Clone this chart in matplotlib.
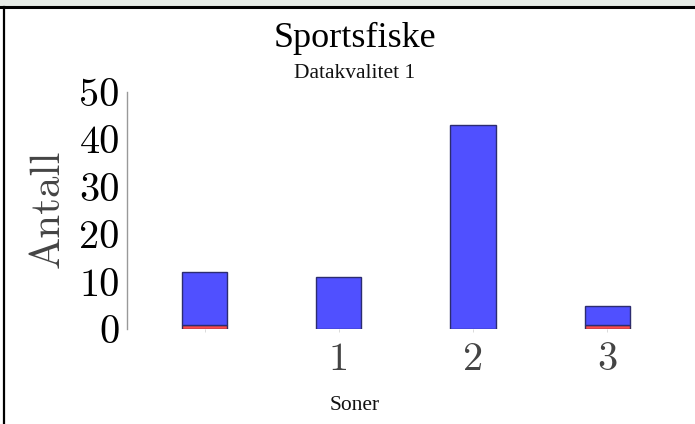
import matplotlib
matplotlib.use("Agg")
import matplotlib.pyplot as plt
import numpy as np
from matplotlib.ticker import FixedLocator

# Catch counts per zone (red = lower segment, blue = stacked on top)
zones = ["", "1", "2", "3"]
red_values = [1, 0, 0, 1]
blue_values = [11, 11, 43, 4]
y_ticks = [0, 10, 20, 30, 40, 50]

W, H = 695, 424
fig = plt.figure(figsize=(W / 100, H / 100), dpi=100)
fig.patch.set_facecolor("white")

ax = fig.add_axes([126.7 / W, 1 - 329.3 / H, (685 - 126.7) / W, (329.3 - 91.8) / H])

x = np.arange(len(zones))
width = 0.336
ax.bar(x, red_values, width, color="#ff4b4b", edgecolor="#3a2a50", linewidth=1.0)
ax.bar(x, blue_values, width, bottom=red_values, color="#5050ff",
       edgecolor="#2c2c70", linewidth=1.0)

ax.set_xlim(-0.58, 3.58)
ax.set_ylim(0, 50)

for s in ["top", "right", "bottom"]:
    ax.spines[s].set_visible(False)
ax.spines["left"].set_color("#999999")
ax.spines["left"].set_linewidth(1.0)

ax.set_xticks(x)
ax.set_xticklabels(zones, family="cmr10", fontsize=29, color="#444444")
ax.tick_params(axis="x", length=2, width=0.5, color="#cccccc", pad=7)

ax.set_yticks(y_ticks)
ax.set_yticklabels([str(v) for v in y_ticks], family="cmr10", fontsize=29, color="black")
ax.tick_params(axis="y", which="major", length=0, pad=5)
ax.yaxis.set_minor_locator(FixedLocator([0, 20, 40]))
ax.tick_params(axis="y", which="minor", direction="in", length=7.5, width=0.9,
               color="#999999")
for t in ax.yaxis.get_minor_ticks():
    t.tick1line.set_clip_on(False)

fig.text(48 / W, 1 - 209 / H, "Antall", family="cmr10", fontsize=31, color="#444444",
         rotation=90, ha="center", va="center")

fig.text(355 / W, 1 - 38 / H, "Sportsfiske", family="Liberation Serif", fontsize=26,
         ha="center", va="center", color="black")
fig.text(355 / W, 1 - 74 / H, "Datakvalitet 1", family="Liberation Serif", fontsize=15.5,
         ha="center", va="center", color="#111111")
fig.text(355 / W, 1 - 405 / H, "Soner", family="Liberation Serif", fontsize=15.5,
         ha="center", va="center", color="#111111")

# Frame lines along the top and left edges, plus the pale strip above
fig.add_artist(plt.Rectangle((0, 1 - 6 / H), 1, 6 / H, transform=fig.transFigure,
                             facecolor="#e6ebe6", edgecolor="none"))
fig.add_artist(plt.Line2D([0, 1], [1 - 7 / H, 1 - 7 / H], transform=fig.transFigure,
                          color="black", linewidth=2.2))
fig.add_artist(plt.Line2D([4 / W, 4 / W], [0, 1 - 7 / H], transform=fig.transFigure,
                          color="black", linewidth=1.6))

fig.savefig("out.png", dpi=100)
